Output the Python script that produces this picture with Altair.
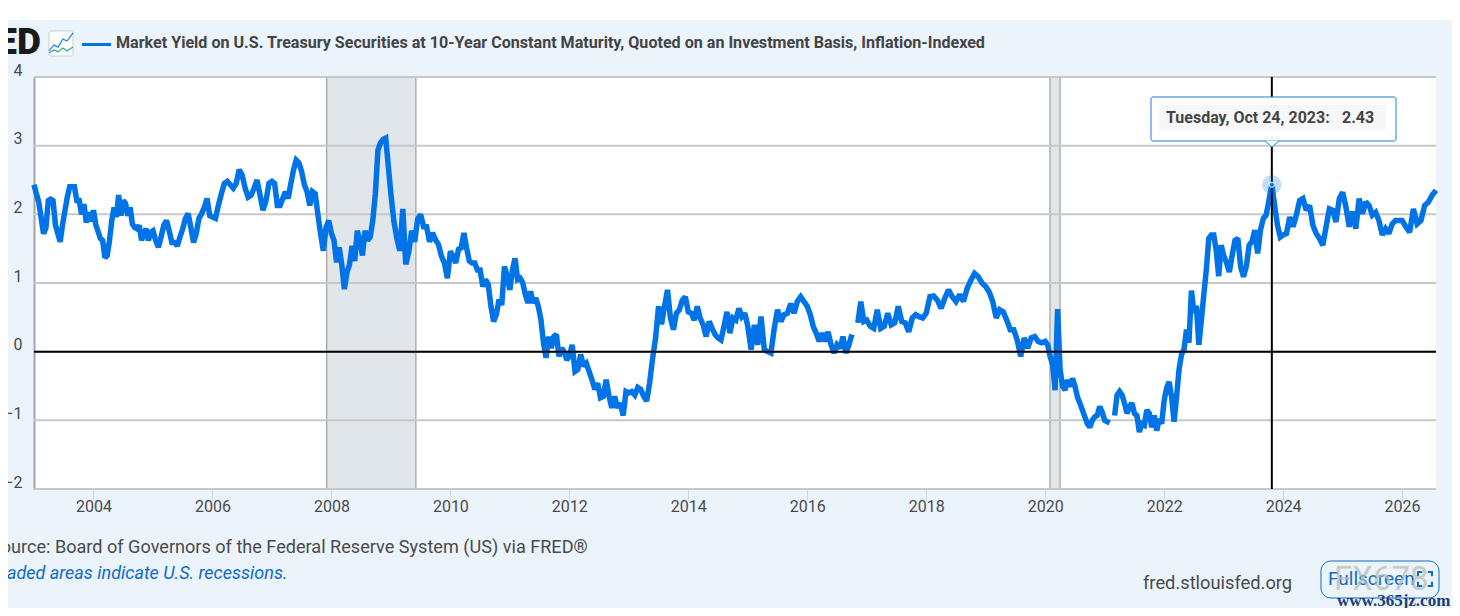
import altair as alt

PANEL = "#EBF3FB"
BLUE = "#0073E6"
TEXT = "#4A4A4A"
FONT = "Roboto"

y2003 = [2.43,2.3,2.18,1.95,1.72,1.8,2.2,2.22,2.2,1.85,1.72,1.6,1.85,2.05,2.25,2.4,2.4,2.4,2.2,2.2,2.0,2.15,1.88,2.03,1.9]
y2004 = [2.06,1.85,1.75,1.65,1.62,1.37,1.4,1.62,1.91,2.1,1.96,2.28,1.98,2.2,2.16,1.98,2.1,1.86,1.81,1.79,1.84,1.62,1.72,1.79,1.62,1.74]
y2005 = [1.76,1.62,1.52,1.67,1.84,1.91,1.76,1.59,1.59,1.54,1.67,1.79,1.94,2.01,1.81,1.59,1.72,1.94,2.01,2.1,2.23,1.98]
y2006 = [1.96,1.94,2.13,2.3,2.45,2.48,2.43,2.38,2.45,2.65,2.57,2.38,2.25,2.28,2.38,2.5,2.28,2.06,2.2,2.45]
y2007 = [2.48,2.45,2.13,2.13,2.23,2.33,2.23,2.45,2.65,2.79,2.75,2.62,2.43,2.33,2.13,2.33,2.3,2.0,1.72,1.47,1.81,1.91]
y2008 = [1.72,1.62,1.3,1.52,1.27,0.91,1.15,1.27,1.54,1.32,1.76,1.62,1.4,1.76,1.62,1.67,1.91,2.3,2.94,3.04,3.09,3.11,2.7]
y2009 = [2.3,1.9,1.65,1.47,2.08,1.27,1.45,1.76,1.6,1.93,2.0,1.82,1.82,1.6,1.73,1.63,1.56,1.39,1.29,1.07]
y2010 = [1.46,1.39,1.29,1.49,1.51,1.73,1.51,1.32,1.29,1.29,1.19,1.19,0.95,1.05,0.98,0.66,0.44,0.54,0.76,0.68,1.24,1.1]
y2011 = [0.9,1.19,1.36,1.05,1.07,1.0,0.83,0.71,0.88,0.71,0.78,0.66,0.47,0.13,-0.09,0.22,0.05,0.22,0.25,-0.07,0.05,0.0,-0.12]
y2012 = [-0.07,0.1,-0.29,-0.26,-0.04,-0.21,-0.17,-0.29,-0.41,-0.55,-0.46,-0.67,-0.65,-0.41,-0.65,-0.82,-0.65,-0.82,-0.75,-0.93,-0.58]
y2013 = [-0.6,-0.58,-0.63,-0.52,-0.55,-0.65,-0.72,-0.45,-0.1,0.2,0.66,0.4,0.66,0.9,0.49,0.32,0.56,0.61,0.75,0.8]
y2014 = [0.58,0.56,0.46,0.66,0.49,0.39,0.22,0.44,0.34,0.25,0.2,0.17,0.37,0.58,0.27,0.49,0.46,0.63,0.51,0.56]
y2015 = [0.37,0.03,0.39,0.1,0.51,0.03,0.0,-0.02,0.34,0.61,0.44,0.54,0.56,0.7,0.56,0.73,0.8,0.73]
y2016 = [0.66,0.54,0.37,0.27,0.15,0.27,0.15,0.29,0.1,-0.02,0.1,0.05,0.22,-0.02,0.1,0.25,None,0.42,0.73,0.44]
y2017 = [0.46,0.37,0.34,0.61,0.34,0.37,0.56,0.39,0.42,0.66,0.44,0.42,0.29,0.49,0.54,0.51,0.49]
y2018 = [0.56,0.8,0.81,0.75,0.63,0.78,0.9,0.8,0.73,0.83,0.73,0.92,1.04,1.14,1.09,1.0]
y2019 = [0.95,0.87,0.73,0.49,0.61,0.58,0.46,0.32,0.32,0.17,-0.07,0.2,0.05,0.2,0.22,0.15,0.13]
y2020 = [0.15,0.1,-0.07,-0.19,-0.56,0.62,-0.26,-0.5,-0.56,-0.41,-0.51,-0.39,-0.5,-0.66,-0.75,-0.85,-0.95,-1.05,-1.1,-1.0,-0.95,-0.93,-0.8,-0.88]
y2021 = [-1.0,-1.02,-1.04,None,-0.93,-0.63,-0.58,-0.63,-0.75,-0.9,-0.8,-0.75,-0.9,-0.93,-1.17,-1.05,-1.07,-0.85,-0.9,-1.1,-0.93,-1.15,-0.98,-1.05]
y2022 = [-0.71,-0.53,-0.44,-0.66,-1.02,-0.66,-0.26,-0.04,0.03,0.32,0.13,0.89,0.57,0.67,0.1,0.46,0.83,1.19,1.65,1.7,1.7,1.48,1.1,1.55]
y2023 = [1.4,1.3,1.16,1.4,1.62,1.65,1.24,1.09,1.24,1.55,1.6,1.77,1.43,1.77,1.94,1.99,2.2,2.43,2.13,1.84,1.67]
y2024 = [1.7,1.72,1.96,1.82,1.99,2.2,2.23,2.06,2.13,1.84,1.72,1.65,1.55,1.82,2.08,2.06,1.89,2.23]
y2025 = [2.32,2.11,1.82,2.04,1.79,2.23,2.01,2.18,2.13,1.99,2.03,1.91,1.7,1.79,1.72,1.86,1.91,1.91]
y2026 = [1.91,1.82,1.74,2.08,1.86,1.91,2.13,2.18,2.28,2.35]

yearly = [y2003,y2004,y2005,y2006,y2007,y2008,y2009,y2010,y2011,y2012,y2013,y2014,
          y2015,y2016,y2017,y2018,y2019,y2020,y2021,y2022,y2023,y2024,y2025,y2026]

x_ticks = [2004,2006,2008,2010,2012,2014,2016,2018,2020,2022,2024,2026]
y_ticks = [-2,-1,0,1,2,3,4]
recession_start = [2007.92, 2020.08]
recession_end = [2009.42, 2020.25]
hover_year = 2023.81
hover_value = 2.43
END_YEAR = 2026.57

rows = []
for k, vals in enumerate(yearly):
    yr = 2003 + k
    span = END_YEAR - 2026 if yr == 2026 else 1.0
    step = span / (len(vals) - 1) if yr == 2026 else span / len(vals)
    for i, v in enumerate(vals):
        rows.append({"year": yr + i * step, "value": v})

xs = alt.Scale(domain=[2003.0, END_YEAR], nice=False, zero=False)
ys = alt.Scale(domain=[-2, 4], nice=False, zero=False)
xax = alt.Axis(values=x_ticks, format="d", title=None, grid=False, domain=False,
               tickSize=11, tickColor="#CCD6EB", tickWidth=1, labelFont=FONT, labelFontSize=16,
               labelColor=TEXT, labelPadding=-2, labelFlush=False, labelOverlap=False)
yax = alt.Axis(values=y_ticks, format="d", title=None, grid=False, domain=True, domainColor="#A3A3A3",
               domainWidth=2, ticks=False, labelFont=FONT, labelFontSize=16, labelColor=TEXT,
               labelPadding=12, labelOffset=-7, labelAlign="right", labelBaseline="middle",
               labelFlush=False, labelOverlap=False)
ONE = alt.Data(values=[{"a": 1}])
OX, OY = 34, 77   # page position of the plot origin


def px(v):
    return alt.value(v - OX)


def py(v):
    return alt.value(v - OY)


def label(txt, x, y, size, color=TEXT, align="left", weight="normal", style="normal",
          font=FONT, opacity=1.0):
    return alt.Chart(ONE).mark_text(text=txt, fontSize=size, color=color, align=align,
                                    baseline="middle", fontWeight=weight, fontStyle=style,
                                    font=font, opacity=opacity).encode(x=px(x), y=py(y))


def box(x0, x1, y0, y1, fill, stroke=None, radius=0, sw=1.0):
    kw = {"fill": fill, "cornerRadius": radius}
    if stroke:
        kw.update(stroke=stroke, strokeWidth=sw)
    return alt.Chart(ONE).mark_rect(**kw).encode(x=px(x0), x2=px(x1), y=py(y0), y2=py(y1))


def glyph(path, x, y, s, stroke, sw=1.5, fill=None):
    kw = {"shape": path, "size": s * s, "stroke": stroke, "strokeWidth": sw, "opacity": 1}
    if fill:
        kw.update(filled=True, fill=fill)
    else:
        kw.update(filled=False)
    return alt.Chart(ONE).mark_point(**kw).encode(x=px(x), y=py(y))


rec = alt.Data(values=[{"s": a, "e": b} for a, b in zip(recession_start, recession_end)])
shade = alt.Chart(rec).mark_rect(color="#E1E6EB").encode(
    x=alt.X("s:Q", scale=xs, axis=xax), x2="e:Q", y=alt.value(0), y2=alt.value(412))
edge_a = alt.Chart(rec).mark_rule(color="#A6A6A6", strokeWidth=1.3).encode(
    x=alt.X("s:Q", scale=xs, axis=xax))
edge_b = alt.Chart(rec).mark_rule(color="#A6A6A6", strokeWidth=1.3).encode(
    x=alt.X("e:Q", scale=xs, axis=xax))

grid = alt.Chart(alt.Data(values=[{"v": v} for v in y_ticks])).mark_rule(
    color="#C8C8C8", strokeWidth=2).encode(y=alt.Y("v:Q", scale=ys, axis=yax))

line = alt.Chart(alt.Data(values=rows)).mark_line(
    color=BLUE, strokeWidth=5.5, strokeJoin="miter", strokeMiterLimit=2, strokeCap="butt").encode(
    x=alt.X("year:Q", scale=xs, axis=xax),
    y=alt.Y("value:Q", scale=ys, axis=yax))

zero = alt.Chart(alt.Data(values=[{"v": 0}])).mark_rule(color="#000000", strokeWidth=2).encode(
    y=alt.Y("v:Q", scale=ys, axis=yax))

hover = alt.Data(values=[{"x": hover_year, "y": hover_value}])
cross = alt.Chart(hover).mark_rule(color="#000000", strokeWidth=2).encode(
    x=alt.X("x:Q", scale=xs, axis=xax))
halo = alt.Chart(hover).mark_point(filled=True, fill=BLUE, opacity=0.25, size=380, strokeWidth=0).encode(
    x=alt.X("x:Q", scale=xs, axis=xax), y=alt.Y("y:Q", scale=ys, axis=yax))
dot = alt.Chart(hover).mark_point(filled=True, fill=BLUE, stroke="white", strokeWidth=1, opacity=1, size=26).encode(
    x=alt.X("x:Q", scale=xs, axis=xax), y=alt.Y("y:Q", scale=ys, axis=yax))

BLUE_LINE = "M-1,0.62L-0.58,0.12L-0.25,0.3L0.16,-0.38L0.5,-0.2L1,-0.88"
GREEN_LINE = "M-1,0.8L-0.58,0.54L-0.25,0.7L0.16,0.38L0.5,0.62L1,0.3"
FS_ICON = "M-1,-0.4V-1H-0.4M0.4,-1H1V-0.4M1,0.4V1H0.4M-0.4,1H-1V0.4"

decor = [
    box(8, 1452, 8, 20, "#FFFFFF"),
    label("FRED", 41, 43, 37, color="#1A1A1A", align="right", weight=900),
    box(49, 73, 31, 56, "#FFFFFF", "#CFCFCF", 2, 1),
    glyph(BLUE_LINE, 61, 43.5, 24, "#1A7FDC", 1.2),
    glyph(GREEN_LINE, 61, 43.5, 24, "#2BA88A", 1.2),
    box(82, 111, 43, 46, BLUE),
    label("Market Yield on U.S. Treasury Securities at 10-Year Constant Maturity, Quoted on an Investment Basis, Inflation-Indexed",
          116, 42.5, 16.1, color="#444444", weight="bold"),
    box(1151, 1396, 97, 141, "#FFFFFF", "#1A7FDC", 2, 1),
    box(1159, 1386, 105, 130, "#F7F7F7"),
    glyph("M-1,-0.45L0,0.45L1,-0.45", 1272, 144, 14, "#1A7FDC", 1, fill="#FFFFFF"),
    label("Tuesday, Oct 24, 2023:", 1166, 117.5, 16, color="#444444", weight="bold"),
    label("2.43", 1342, 117.5, 16, color="#444444", weight="bold"),
    label("Source: Board of Governors of the Federal Reserve System (US) via FRED\u00ae", -10, 548, 18.1, color="#4A4A4A"),
    label("Shaded areas indicate U.S. recessions.", -13, 574, 18, color="#0F6CC6", style="italic"),
    label("fred.stlouisfed.org", 1143, 583.5, 18.3, color="#4A4A4A"),
    box(1321, 1439, 561, 598, PANEL, "#0F6CC6", 10, 1),
    label("Fullscreen", 1328, 579, 19, color="#0F6CC6"),
    glyph(FS_ICON, 1425, 579, 14, "#0F6CC6", 2),
    label("FX678", 1334, 580, 33, color="#B8B8B8", opacity=0.7),
    label("www.365jz.com", 1337, 601, 17, color="#1C3E7A", weight="bold", font="Liberation Serif"),
]

chart = alt.layer(shade, edge_a, edge_b, grid, line, zero, cross, halo, dot, *decor).properties(
    width=1402, height=412, background=PANEL,
    padding={"left": 26, "top": 69, "right": 16, "bottom": 119},
    autosize=alt.AutoSizeParams(type="none", contains="content"),
).configure_view(fill="white", stroke=None)

chart.save("out.html", embed_options={"renderer": "svg", "actions": False})
